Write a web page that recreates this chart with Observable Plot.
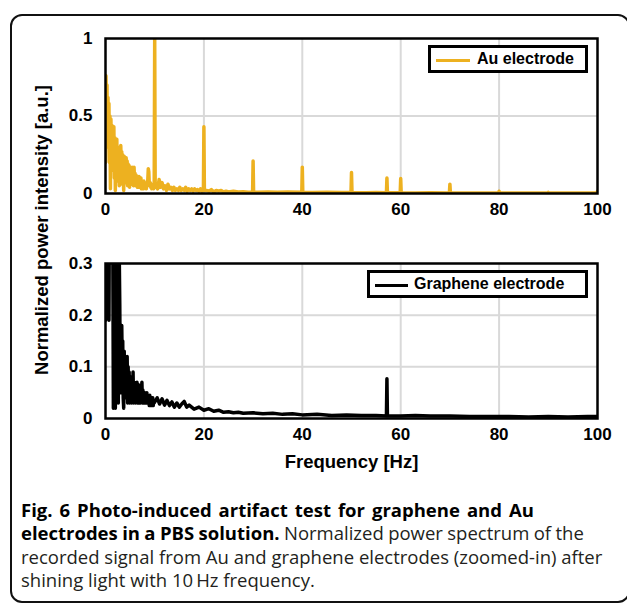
<!DOCTYPE html>
<html>
<head>
<meta charset="utf-8">
<script src="https://cdn.jsdelivr.net/npm/d3@7"></script>
<script src="https://cdn.jsdelivr.net/npm/@observablehq/plot@0.6"></script>
<style>
  html, body { margin: 0; padding: 0; background: #fff; overflow: hidden; width: 627px; height: 605px; }
  #page { position: relative; width: 627px; height: 605px; overflow: hidden; }
  #outer { position: absolute; left: 10px; top: 14px; width: 620px; height: 589px; box-sizing: border-box;
           border: 2px solid #111; border-radius: 12px; }
  .plot { position: absolute; left: 0; }
  .legend { position: absolute; box-sizing: border-box; border: 3px solid #000; background: #fff;
            font-family: "Liberation Sans", Arial, sans-serif; font-weight: bold; font-size: 16px; color: #000; }
  .legend .sw { position: absolute; height: 3.5px; top: 10.5px; }
  .legend .lt { position: absolute; top: 3px; line-height: 16px; white-space: nowrap; }
  #ylabel { position: absolute; left: 42px; top: 230px; transform: translate(-50%, -50%) rotate(-90deg);
            font-family: "Liberation Sans", Arial, sans-serif; font-weight: bold; font-size: 18.5px; white-space: nowrap; color:#000; }
  #caption { position: absolute; left: 21px; top: 498px; font-family: "Open Sans", sans-serif; white-space: nowrap;
             font-size: 18.5px; line-height: 23.4px; color: #231f20; }
  #caption b { font-weight: 700; color: #000; }
  #caption .l1 { word-spacing: 2.2px; }
  #caption .l2 { word-spacing: -0.4px; }
</style>
</head>
<body>
<div id="page">
  <div id="outer"></div>
  <div id="top" class="plot" style="top:0px"></div>
  <div id="bottom" class="plot" style="top:225px"></div>
  <div id="ylabel">Normalized power intensity [a.u.]</div>
  <div class="legend" style="left:428px; top:45px; width:160px; height:28px;">
    <div class="sw" style="left:5px; width:34px; background:#EDB120;"></div>
    <div class="lt" style="left:46px;">Au electrode</div>
  </div>
  <div class="legend" style="left:367px; top:270px; width:221px; height:28px;">
    <div class="sw" style="left:5px; width:33px; background:#000;"></div>
    <div class="lt" style="left:44px;">Graphene electrode</div>
  </div>
  <div id="caption"><span class="l1"><b>Fig. 6 Photo-induced artifact test for graphene and Au</b></span><br><span class="l2"><b>electrodes in a PBS solution.</b> Normalized power spectrum of the</span><br>recorded signal from Au and graphene electrodes (zoomed-in) after<br>shining light with 10&#8201;Hz frequency.</div>
</div>
<script>
// ---- Data ----
const xTicks = [0, 20, 40, 60, 80, 100];
const auTicks = [0, 0.5, 1];
const grTicks = [0, 0.1, 0.2, 0.3];

// Au electrode spectrum: frequency [Hz] and normalized power
const auHz = [
  0.0,0.1,0.2,0.3,0.4,0.5,0.6,0.7,0.8,0.9,
  1.0,1.1,1.2,1.3,1.4,1.5,1.6,1.7,1.8,1.9,
  2.0,2.1,2.2,2.3,2.4,2.5,2.6,2.7,2.8,2.9,
  3.0,3.1,3.2,3.3,3.4,3.5,3.6,3.7,3.8,3.9,
  4.0,4.1,4.2,4.3,4.4,4.5,4.6,4.7,4.8,4.9,
  5.0,5.1,5.2,5.3,5.4,5.5,5.6,5.7,5.8,5.9,
  6.0,6.1,6.2,6.3,6.4,6.5,6.6,6.7,6.8,6.9,
  7.0,7.1,7.2,7.3,7.4,7.5,7.6,7.7,7.8,7.9,
  8.0,8.1,8.2,8.3,8.4,8.5,8.6,8.7,8.8,8.9,
  9.0,9.1,9.2,9.3,9.4,9.5,9.6,9.7,9.8,9.9,
  10.0,10.1,10.3,10.6,10.9,11.2,11.5,11.8,12.1,12.4,12.7,13.0,13.3,13.6,13.9,14.2,14.5,14.8,
  15.1,15.4,15.7,16.0,16.3,16.6,16.9,17.2,17.5,17.8,18.1,18.4,18.7,19.0,19.3,19.6,19.9,
  20.0,20.1,20.5,21,21.5,22,22.5,23,23.5,24,24.5,25,26,27,28,29,29.9,
  30.0,30.1,31,33,35,37,39.9,40.0,40.1,42,45,48,49.9,50.0,50.1,53,55,57.1,57.2,57.3,
  59.9,60.0,60.1,63,66,69.9,70.0,70.1,74,77,79.9,80.0,80.1,84,87,89.9,90.0,90.1,94,97,99.9,100
];
const auPower = [
  0.20,0.76,0.55,0.70,0.30,0.62,0.45,0.58,0.20,0.50,
  0.03,0.48,0.30,0.44,0.15,0.42,0.25,0.43,0.10,0.36,
  0.02,0.33,0.18,0.35,0.08,0.30,0.15,0.28,0.05,0.30,
  0.12,0.31,0.20,0.27,0.06,0.25,0.10,0.02,0.24,0.14,
  0.22,0.07,0.23,0.12,0.21,0.05,0.19,0.10,0.18,0.04,
  0.17,0.09,0.16,0.06,0.17,0.08,0.15,0.05,0.17,0.09,
  0.13,0.05,0.12,0.07,0.11,0.04,0.10,0.06,0.11,0.04,
  0.09,0.06,0.10,0.03,0.08,0.05,0.07,0.03,0.08,0.05,
  0.07,0.04,0.06,0.03,0.07,0.05,0.09,0.16,0.14,0.06,
  0.05,0.07,0.04,0.06,0.03,0.05,0.04,0.06,0.03,0.05,
  1.00,0.04,0.06,0.03,0.09,0.04,0.07,0.03,0.05,0.02,0.06,0.03,0.04,0.02,0.04,0.02,0.03,0.02,
  0.04,0.02,0.03,0.02,0.04,0.015,0.03,0.02,0.03,0.015,0.03,0.02,0.025,0.015,0.03,0.015,0.02,
  0.43,0.02,0.02,0.015,0.025,0.01,0.02,0.015,0.02,0.01,0.015,0.01,0.015,0.01,0.012,0.008,0.01,
  0.21,0.01,0.008,0.01,0.008,0.01,0.008,0.17,0.008,0.006,0.008,0.006,0.006,0.135,0.006,0.005,0.006,0.005,0.10,0.005,
  0.005,0.097,0.005,0.004,0.005,0.004,0.06,0.004,0.004,0.003,0.004,0.015,0.004,0.003,0.004,0.003,0.007,0.003,0.003,0.004,0.004,0.015
];

// Graphene electrode spectrum: frequency [Hz] and normalized power
const grHz = [
  0.0,0.1,0.2,0.3,0.4,0.5,0.6,0.7,0.8,0.9,
  1.0,1.1,1.2,1.3,1.4,1.5,1.6,1.7,1.8,1.9,
  2.0,2.1,2.2,2.3,2.4,2.5,2.6,2.7,2.8,2.9,
  3.0,3.1,3.2,3.3,3.4,3.5,3.6,3.7,3.8,3.9,
  4.0,4.1,4.2,4.3,4.4,4.5,4.6,4.7,4.8,4.9,
  5.0,5.1,5.2,5.3,5.4,5.5,5.6,5.7,5.8,5.9,
  6.0,6.1,6.2,6.3,6.4,6.5,6.6,6.7,6.8,6.9,
  7.0,7.1,7.2,7.3,7.4,7.5,7.6,7.7,7.8,7.9,
  8.0,8.1,8.2,8.3,8.4,8.5,8.6,8.7,8.8,8.9,
  9.0,9.1,9.2,9.3,9.4,9.5,9.6,9.7,9.8,9.9,
  10.5,11,11.5,12,12.5,13,13.5,14,14.5,15,15.5,16,16.5,17,18,19,20,21,22,23,24,25,26,27,28,
  30,32,34,36,38,40,43,46,49,52,55,57.1,57.2,57.3,60,63,66,70,74,78,82,86,90,94,98,100
];
const grPower = [
  0.19,0.65,0.40,0.55,0.35,0.70,0.32,0.19,0.45,0.33,
  0.60,0.31,0.50,0.34,0.45,0.31,0.02,0.48,0.33,0.40,
  0.02,0.38,0.31,0.42,0.32,0.36,0.03,0.33,0.31,0.22,
  0.07,0.18,0.05,0.18,0.10,0.15,0.04,0.02,0.13,0.06,
  0.11,0.04,0.10,0.06,0.12,0.03,0.10,0.05,0.09,0.03,
  0.08,0.04,0.08,0.03,0.07,0.04,0.09,0.03,0.07,0.04,
  0.06,0.03,0.065,0.04,0.07,0.03,0.06,0.03,0.065,0.03,
  0.055,0.03,0.06,0.04,0.07,0.03,0.055,0.03,0.05,0.03,
  0.05,0.03,0.045,0.03,0.05,0.03,0.045,0.03,0.04,0.025,
  0.045,0.03,0.04,0.025,0.04,0.03,0.04,0.025,0.035,0.03,
  0.04,0.028,0.038,0.026,0.035,0.025,0.032,0.022,0.03,0.022,0.028,0.033,0.022,0.026,0.018,0.022,0.016,0.019,0.014,0.016,0.012,0.013,0.011,0.012,0.01,
  0.011,0.009,0.01,0.008,0.009,0.007,0.008,0.006,0.007,0.006,0.006,0.005,0.077,0.005,0.005,0.006,0.005,0.005,0.004,0.004,0.004,0.003,0.004,0.003,0.004,0.004
];

// ---- Tables built from the arrays ----
const au = auHz.map((f, i) => ({f, p: auPower[i]}));
const gr = grHz.map((f, i) => ({f, p: grPower[i]}));

const font = {fontFamily: "'Liberation Sans', Arial, sans-serif", fontSize: "17px", fontWeight: "bold", color: "#000", background: "transparent", overflow: "visible"};
const gridStyle = {stroke: "#d9d9d9", strokeOpacity: 1, strokeWidth: 2};

const topPlot = Plot.plot({
  width: 627, height: 225,
  marginLeft: 105, marginRight: 30, marginTop: 38, marginBottom: 32,
  style: font,
  x: {domain: [0, 100]},
  y: {domain: [0, 1]},
  marks: [
    Plot.gridX(xTicks.slice(1, -1), gridStyle),
    Plot.gridY([0.5], gridStyle),
    Plot.line(au, {x: "f", y: "p", stroke: "#EDB120", strokeWidth: 3.5, strokeLinejoin: "round", clip: true}),
    Plot.frame({stroke: "#000", strokeWidth: 2.5}),
    Plot.axisX(xTicks, {tickSize: 0, tickPadding: 9, label: null, tickFormat: d => String(d)}),
    Plot.axisY(auTicks, {tickSize: 0, tickPadding: 13, label: null, tickFormat: d => String(d)})
  ]
});
document.getElementById("top").appendChild(topPlot);

const bottomPlot = Plot.plot({
  width: 627, height: 260,
  marginLeft: 105, marginRight: 30, marginTop: 38, marginBottom: 67,
  style: font,
  x: {domain: [0, 100]},
  y: {domain: [0, 0.3]},
  marks: [
    Plot.gridX(xTicks.slice(1, -1), gridStyle),
    Plot.gridY([0.1, 0.2], gridStyle),
    Plot.line(gr, {x: "f", y: "p", stroke: "#000", strokeWidth: 3.5, strokeLinejoin: "round", clip: true}),
    Plot.frame({stroke: "#000", strokeWidth: 2.5}),
    Plot.axisX(xTicks, {tickSize: 0, tickPadding: 9, label: null, tickFormat: d => String(d)}),
    Plot.axisY(grTicks, {tickSize: 0, tickPadding: 13, label: null, tickFormat: d => String(d)}),
    Plot.text(["Frequency [Hz]"], {frameAnchor: "bottom", dy: 49, text: d => d, fontSize: 18.5, fontWeight: "bold"})
  ]
});
document.getElementById("bottom").appendChild(bottomPlot);
</script>
</body>
</html>
